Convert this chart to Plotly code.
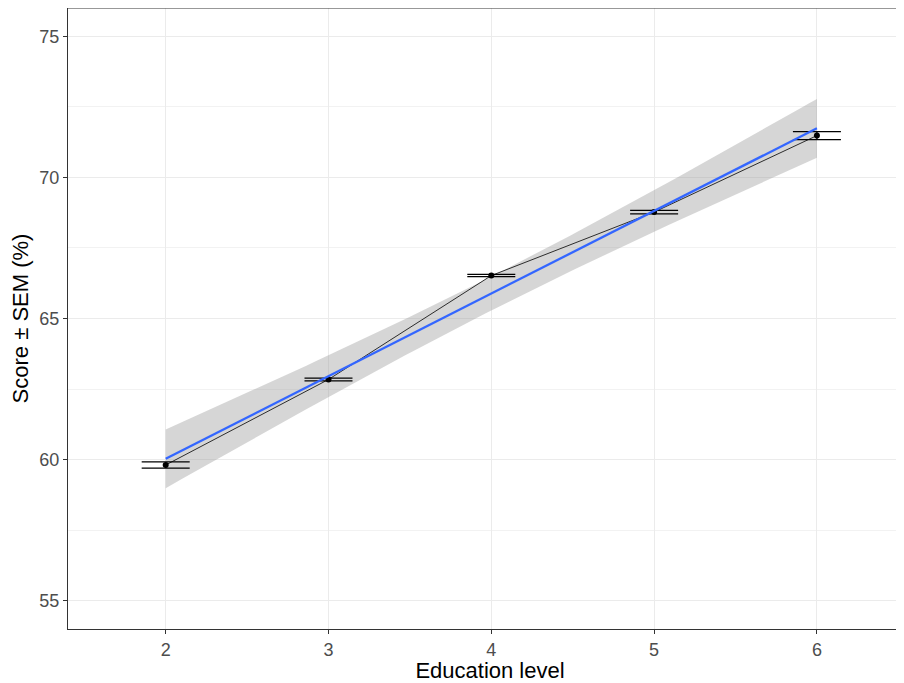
import numpy as np
import plotly.graph_objects as go

# Data
education_level = [2, 3, 4, 5, 6]
score = [59.81, 62.84, 66.52, 68.77, 71.48]
sem = [0.11, 0.05, 0.04, 0.06, 0.14]

# Linear fit with 95% confidence band (as geom_smooth(method="lm"))
x = np.array(education_level, dtype=float)
y = np.array(score, dtype=float)
slope, intercept = np.polyfit(x, y, 1)
xs = np.linspace(x.min(), x.max(), 80)
fit = intercept + slope * xs
resid = y - (intercept + slope * x)
n = len(x)
s = np.sqrt(np.sum(resid ** 2) / (n - 2))
t_crit = 3.182446  # t(0.975, df=3)
se = s * np.sqrt(1.0 / n + (xs - x.mean()) ** 2 / np.sum((x - x.mean()) ** 2))
upper = fit + t_crit * se
lower = fit - t_crit * se

fig = go.Figure()
fig.add_trace(go.Scatter(
    x=np.concatenate([xs, xs[::-1]]), y=np.concatenate([upper, lower[::-1]]),
    fill="toself", fillcolor="rgba(153,153,153,0.4)", line=dict(width=0),
    mode="lines", hoverinfo="skip", showlegend=False))
fig.add_trace(go.Scatter(
    x=education_level, y=score, mode="lines",
    line=dict(color="black", width=0.8), showlegend=False))
fig.add_trace(go.Scatter(
    x=education_level, y=score, mode="markers",
    marker=dict(color="black", size=6),
    error_y=dict(type="data", array=sem, visible=True, color="black",
                 thickness=1.3, width=24),
    showlegend=False))
fig.add_trace(go.Scatter(
    x=xs, y=fit, mode="lines", line=dict(color="#3366FF", width=2.3),
    showlegend=False))

axis_font = dict(family="Liberation Sans, Arial, sans-serif", size=18, color="#4D4D4D")
title_font = dict(family="Liberation Sans, Arial, sans-serif", size=22, color="black")

fig.update_layout(
    width=904, height=675,
    margin=dict(l=60, r=0, t=0, b=54),
    paper_bgcolor="white", plot_bgcolor="white",
    font=dict(family="Liberation Sans, Arial, sans-serif"),
    xaxis=dict(
        range=[1.4, 6.584], tickvals=education_level,
        ticktext=[str(v) for v in education_level],
        tickfont=axis_font, ticks="outside", ticklen=4, tickcolor="#333333",
        tickwidth=1, automargin=False,
        showgrid=True, gridcolor="#EBEBEB", gridwidth=1.1,
        showline=True, linecolor="#333333", linewidth=1.2,
        zeroline=False,
        title=dict(text="Education level", font=title_font, standoff=4),
    ),
    yaxis=dict(
        range=[54, 76], tickvals=[55, 60, 65, 70, 75],
        tickfont=axis_font, ticks="outside", ticklen=4, tickcolor="#333333",
        tickwidth=1, automargin=False,
        showgrid=True, gridcolor="#EBEBEB", gridwidth=1.1,
        minor=dict(tickvals=[57.5, 62.5, 67.5, 72.5], showgrid=True,
                   gridcolor="#F2F2F2", gridwidth=0.6, ticks=""),
        showline=True, linecolor="#333333", linewidth=1.2,
        zeroline=False,
        title=dict(text="Score ± SEM (%)", font=title_font, standoff=10),
    ),
    shapes=[dict(type="line", xref="paper", yref="paper", x0=0, x1=1, y0=1, y1=1,
                 line=dict(color="#333333", width=1.2))],
)

fig.write_html("out.html")
